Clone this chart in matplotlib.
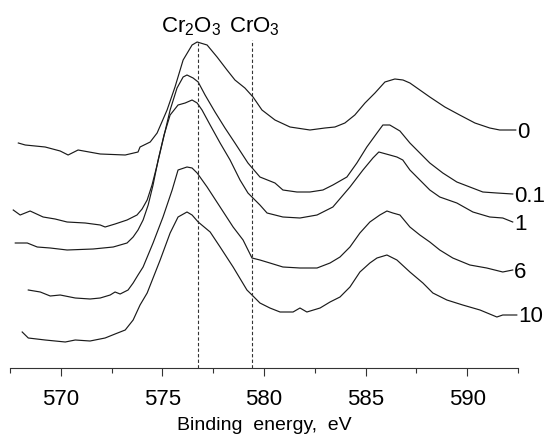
import matplotlib
matplotlib.use("Agg")
import matplotlib.pyplot as plt
from matplotlib.ticker import MultipleLocator

plt.rcParams['font.family'] = ['Liberation Sans', 'DejaVu Sans']
plt.rcParams['mathtext.fontset'] = 'custom'
plt.rcParams['mathtext.rm'] = 'Liberation Sans'

# Cr 2p spectra (intensity in arbitrary units, already stacked)
labels = ["0", "0.1", "1", "6", "10"]

e_0 = [567.91, 568.25, 568.74, 569.23, 569.97, 570.36, 570.85, 571.94, 573.17, 573.80,
       573.90, 574.40, 574.74, 575.23, 575.62, 576.02, 576.46, 576.71, 577.20, 577.69,
       578.18, 578.57, 579.06, 579.46, 579.90, 580.54, 581.28, 582.26, 583.00, 583.49,
       583.98, 584.47, 584.97, 585.46, 585.95, 586.44, 586.84, 587.18, 587.67, 588.16,
       588.90, 589.63, 590.38, 591.11, 591.60, 592.39]
i_0 = [225, 223, 222, 221, 217, 213, 218, 214, 213, 216,
       221, 226, 235, 258, 281, 308, 323, 326, 323, 311,
       298, 288, 280, 271, 258, 248, 241, 238, 240, 241,
       245, 253, 265, 275, 286, 289, 288, 285, 278, 271,
       261, 253, 245, 240, 238, 238]

e_01 = [567.66, 568.00, 568.49, 569.13, 569.72, 570.31, 571.20, 571.94, 572.18, 572.67,
        573.26, 573.75, 574.00, 574.25, 574.49, 574.74, 575.03, 575.38, 575.72, 576.02,
        576.21, 576.51, 576.76, 577.10, 577.59, 578.08, 578.57, 579.21, 579.80, 580.54,
        580.93, 581.62, 582.26, 582.90, 583.39, 584.08, 584.57, 585.06, 585.56, 585.85,
        586.19, 586.69, 587.18, 587.67, 588.16, 588.80, 589.49, 590.13, 590.77, 591.46,
        592.24]
i_01 = [158, 153, 157, 151, 149, 146, 145, 143, 141, 144,
        148, 153, 159, 168, 183, 203, 228, 258, 280, 291,
        293, 290, 286, 273, 256, 240, 225, 205, 191, 185,
        178, 176, 176, 178, 183, 191, 205, 221, 235, 243,
        243, 237, 225, 215, 205, 195, 186, 181, 176, 175,
        174]

e_1 = [567.76, 568.35, 568.84, 569.48, 570.31, 571.59, 572.58, 573.26, 573.56, 573.80,
       574.05, 574.30, 574.54, 574.79, 575.08, 575.38, 575.77, 576.12, 576.46, 576.71,
       576.95, 577.35, 577.84, 578.33, 578.82, 579.21, 579.80, 580.15, 580.93, 581.77,
       582.61, 583.39, 584.23, 584.87, 585.36, 585.65, 586.19, 586.54, 586.83, 587.18,
       587.67, 588.16, 588.65, 589.49, 590.28, 591.11, 591.75, 592.24]
i_1 = [125, 125, 121, 120, 118, 119, 121, 125, 131, 138,
       148, 163, 183, 208, 233, 253, 263, 265, 268, 265,
       258, 243, 225, 208, 188, 175, 163, 155, 151, 150,
       153, 161, 181, 198, 210, 216, 213, 211, 208, 198,
       188, 178, 171, 165, 156, 151, 150, 146]

e_6 = [568.40, 568.99, 569.48, 569.97, 570.71, 571.44, 571.94, 572.43, 572.67, 572.92,
       573.31, 573.56, 573.80, 574.05, 574.54, 575.03, 575.48, 575.77, 576.21, 576.46,
       576.71, 577.20, 577.84, 578.48, 578.97, 579.41, 579.80, 580.29, 580.93, 581.77,
       582.61, 583.25, 583.74, 584.23, 584.72, 585.21, 585.70, 586.05, 586.34, 586.69,
       587.18, 587.67, 588.16, 588.65, 589.29, 590.13, 590.96, 591.75, 592.24]
i_6 = [78, 76, 72, 73, 70, 69, 70, 73, 76, 74,
       78, 85, 93, 101, 125, 151, 178, 198, 201, 200,
       195, 181, 161, 141, 128, 110, 108, 105, 101, 100,
       100, 105, 111, 121, 135, 146, 153, 157, 155, 153,
       141, 133, 126, 118, 110, 103, 100, 96, 98]

e_10 = [568.10, 568.40, 569.23, 570.22, 570.71, 571.44, 572.18, 572.67, 573.17, 573.56,
        573.90, 574.25, 574.89, 575.38, 575.77, 576.21, 576.46, 576.76, 577.35, 577.84,
        578.48, 579.16, 579.41, 579.80, 580.29, 580.79, 581.43, 581.77, 582.11, 582.76,
        583.25, 583.74, 584.23, 584.72, 585.21, 585.56, 586.05, 586.54, 587.18, 587.82,
        588.31, 589.00, 589.78, 590.63, 591.46, 591.75, 592.44]
i_10 = [36, 30, 28, 26, 28, 27, 30, 34, 38, 48,
        63, 75, 108, 135, 151, 156, 153, 146, 136, 121,
        101, 78, 73, 65, 60, 56, 56, 60, 56, 60,
        66, 71, 81, 96, 105, 110, 113, 108, 96, 85,
        75, 68, 63, 58, 51, 53, 53]

energies = [e_0, e_01, e_1, e_6, e_10]
intensities = [i_0, i_01, i_1, i_6, i_10]

# reference positions
ref_names = [r"Cr$_\mathregular{2}$O$_\mathregular{3}$", r"CrO$_\mathregular{3}$"]
ref_pos = [576.77, 579.42]
ref_top = [325, 328]
ref_text_x = [576.4, 579.55]

fig = plt.figure(figsize=(5.5, 4.4), dpi=100)
ax = fig.add_axes([10 / 550, 1 - 368 / 440, 508 / 550, 368 / 440])

for e, inten, lab in zip(energies, intensities, labels):
    ax.plot(e, inten, color="#1a1a1a", lw=0.85)
    ax.text(e[-1] + 0.08, inten[-1] - 2, lab, ha="left", va="center",
            fontsize=16, clip_on=False)

for pos, top, name, tx in zip(ref_pos, ref_top, ref_names, ref_text_x):
    ax.plot([pos, pos], [0, top], color="#333333", lw=0.8, ls=(0, (3, 2)))
    ax.text(tx, 336, name, ha="center", va="baseline", fontsize=16)

ax.set_xlim(567.5, 592.5)
ax.set_ylim(0, 368)
ax.xaxis.set_major_locator(MultipleLocator(5))
ax.xaxis.set_minor_locator(MultipleLocator(2.5))
ax.tick_params(axis="x", which="major", length=6, width=0.8, labelsize=16, pad=9, color="#333333")
ax.tick_params(axis="x", which="minor", length=3.5, width=0.8, color="#333333")
ax.set_yticks([])
for s in ["top", "left", "right"]:
    ax.spines[s].set_visible(False)
ax.spines["bottom"].set_linewidth(0.8)
ax.spines["bottom"].set_color("#333333")
ax.set_xlabel("Binding  energy,  eV", fontsize=14, labelpad=5)

fig.savefig("out.png", dpi=100)
